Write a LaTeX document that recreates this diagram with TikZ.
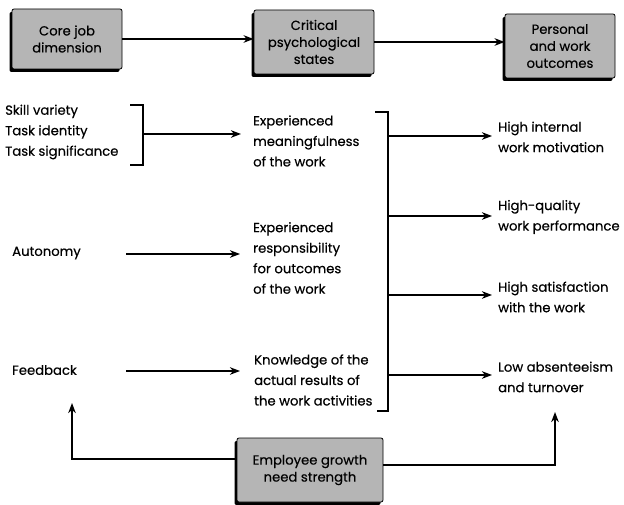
\documentclass[tikz,border=0pt]{standalone}
\usepackage{fontspec}
\setmainfont{Poppins}[FakeBold=0.4]
\usetikzlibrary{arrows.meta,shadows}
\begin{document}
\begin{tikzpicture}[x=1pt,y=-1pt,
  lbl/.style={font=\fontsize{13.2}{20.5}\selectfont, align=left, inner sep=0pt, anchor=west},
  hdr/.style={font=\fontsize{13.2}{17}\selectfont, align=center, fill=gray!58, draw=black, line width=0.8pt,
    rounded corners=2pt, inner sep=0pt,
    drop shadow={shadow xshift=-2.5pt, shadow yshift=-3pt, fill=black, opacity=1}},
  arr/.style={line width=1.6pt, -{Stealth[length=10pt,width=7.5pt,inset=3pt]}},
  brk/.style={line width=2pt}]
\useasboundingbox (0,0) rectangle (624,505);

% header boxes
\node[hdr, minimum width=110pt, minimum height=60pt] (cj) at (67,39) {Core job\\dimension};
\node[hdr, minimum width=120pt, minimum height=64pt] (cp) at (314,42) {Critical\\psychological\\states};
\node[hdr, minimum width=110pt, minimum height=64pt] (pw) at (560,46) {Personal\\and work\\outcomes};
\node[hdr, minimum width=146pt, minimum height=64pt] (gn) at (310,470) {Employee growth\\need strength};

\draw[arr] (cj.east) -- (cj.east -| cp.west);
\draw[arr] (cp.east) -- (cp.east -| pw.west);

% left column
\node[lbl] (sv) at (5,132) {Skill variety\\Task identity\\Task significance};
\node[lbl] (au) at (12,253) {Autonomy};
\node[lbl] (fb) at (12,370) {Feedback};

% middle column
\node[lbl] (em) at (253,141) {Experienced\\meaningfulness\\of the work};
\node[lbl] (er) at (253,258) {Experienced\\responsibility\\for outcomes\\of the work};
\node[lbl] (kr) at (254,380) {Knowledge of the\\actual results of\\the work activities};

% right column
\node[lbl] (o1) at (498,137) {High internal\\work motivation};
\node[lbl] (o2) at (498,217) {High-quality\\work performance};
\node[lbl] (o3) at (498,297) {High satisfaction\\with the work};
\node[lbl] (o4) at (498,377) {Low absenteeism\\and turnover};

% left bracket
\coordinate (b1t) at (130,105);
\coordinate (b1b) at (130,165);
\coordinate (b1m) at (143,134);
\draw[brk] (b1t) -- ++(13,0) -- ++(0,60) -- (b1b);
\draw[arr, shorten >=12pt] (b1m) -- (b1m -| em.west);

% single arrows
\coordinate (au1) at (126,254);
\coordinate (fb1) at (126,371);
\draw[arr, shorten >=13pt] (au1) -- (au1 -| er.west);
\draw[arr, shorten >=14pt] (fb1) -- (fb1 -| kr.west);

% big bracket
\coordinate (b2t) at (375,112);
\coordinate (b2b) at (377,411);
\draw[brk] (b2t) -- (388,112) -- (388,411) -- (b2b);
\coordinate (r1) at (388,136);
\coordinate (r2) at (388,216);
\coordinate (r3) at (388,295);
\coordinate (r4) at (388,375);
\draw[arr, shorten >=6pt] (r1) -- (r1 -| o1.west);
\draw[arr, shorten >=6pt] (r2) -- (r2 -| o2.west);
\draw[arr, shorten >=6pt] (r3) -- (r3 -| o3.west);
\draw[arr, shorten >=6pt] (r4) -- (r4 -| o4.west);

% growth need strength moderators
\coordinate (fbT) at (72,403);
\coordinate (loT) at (555,412);
\draw[arr] ([yshift=11pt]gn.west) -| (fbT);
\draw[arr] ([yshift=5pt]gn.east) -| (loT);
\end{tikzpicture}
\end{document}
